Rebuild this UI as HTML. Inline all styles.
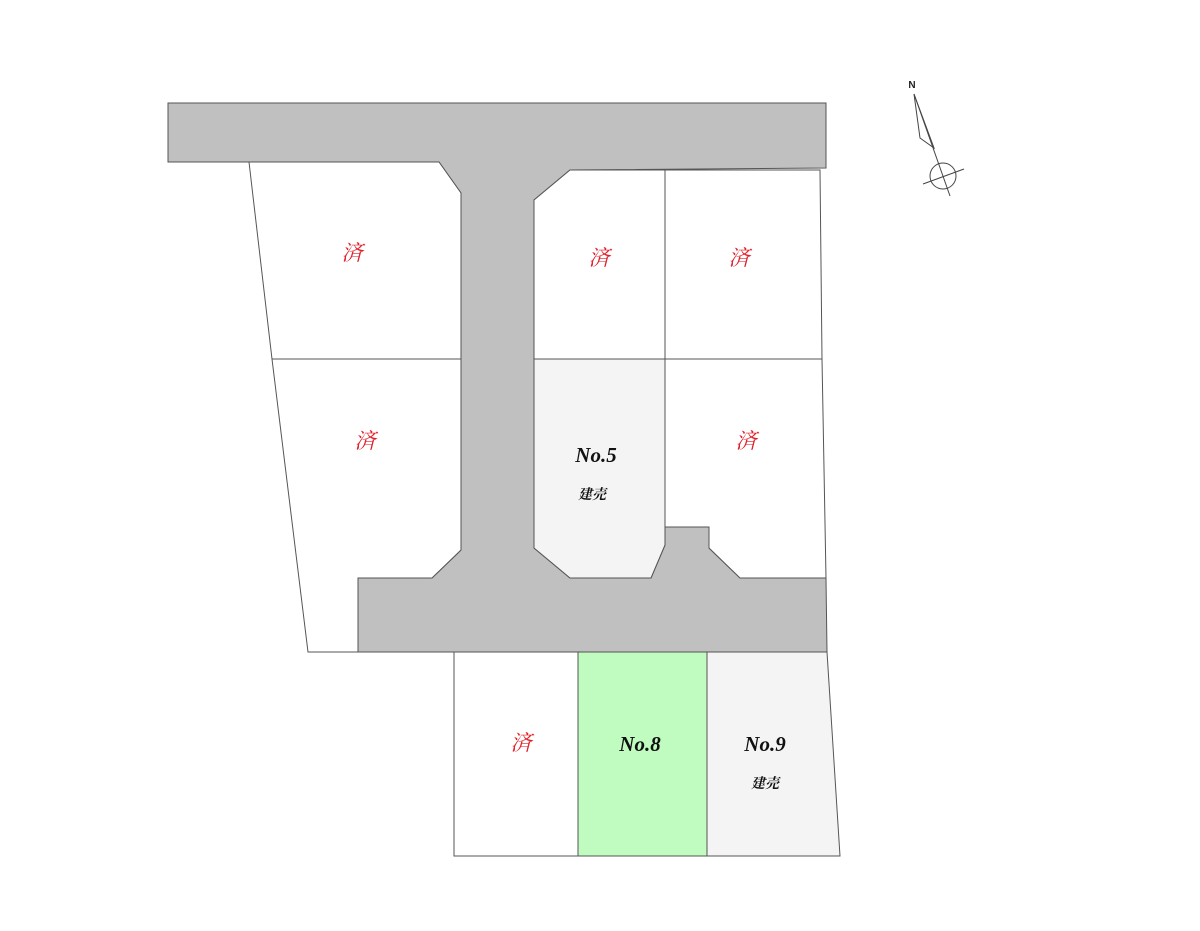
<!DOCTYPE html>
<html><head><meta charset="utf-8"><style>
html,body{margin:0;padding:0;background:#fff;}
svg{display:block;}
.s{font-family:"Liberation Serif","Noto Serif CJK SC",serif;font-style:italic;fill:#e0202a;font-size:21px;}
.n{font-family:"Liberation Serif",serif;font-style:italic;font-weight:bold;fill:#111;font-size:21px;}
.k{font-family:"Liberation Serif","Noto Serif CJK SC",serif;font-style:italic;fill:#111;font-size:14px;font-weight:bold;}
</style></head><body>
<svg width="1200" height="931" viewBox="0 0 1200 931">
<g stroke="#555" stroke-width="1">
<polygon fill="#c0c0c0" points="168,103 826,103 826,168 570,170 534,200 534,548 570,578 651,578 665,545 665,527 709,527 709,548 740,578 826,578 827,652 358,652 358,578 432,578 461,550 461,193 439,162 168,162"/>
<polygon fill="#fff" points="249,162 439,162 461,193 461,359 272,359"/>
<polygon fill="#fff" points="272,359 461,359 461,550 432,578 358,578 358,652 308,652"/>
<polygon fill="#fff" points="534,200 570,170 665,170 665,359 534,359"/>
<polygon fill="#fff" points="665,170 820,170 822,359 665,359"/>
<polygon fill="#f4f4f4" points="534,359 665,359 665,545 651,578 570,578 534,548"/>
<polygon fill="#fff" points="665,359 822,359 826,578 740,578 709,548 709,527 665,527"/>
<polygon fill="#fff" points="454,652 578,652 578,856 454,856"/>
<polygon fill="#c0fcc0" points="578,652 707,652 707,856 578,856"/>
<polygon fill="#f4f4f4" points="707,652 827,652 840,856 707,856"/>
</g>
<text class="s" x="352" y="260" text-anchor="middle">済</text>
<text class="s" x="599" y="265" text-anchor="middle">済</text>
<text class="s" x="739" y="265" text-anchor="middle">済</text>
<text class="s" x="365" y="448" text-anchor="middle">済</text>
<text class="s" x="746" y="448" text-anchor="middle">済</text>
<text class="s" x="521" y="750" text-anchor="middle">済</text>
<text class="n" x="596" y="462" text-anchor="middle">No.5</text>
<text class="k" x="592" y="499" text-anchor="middle">建売</text>
<text class="n" x="640" y="751" text-anchor="middle">No.8</text>
<text class="n" x="765" y="751" text-anchor="middle">No.9</text>
<text class="k" x="765" y="788" text-anchor="middle">建売</text>
<g stroke="#444" stroke-width="1" fill="none">
<polyline points="914,94 920,138 934,148 914,94"/>
<line x1="914" y1="94" x2="950" y2="196"/>
<circle cx="943" cy="176" r="13"/>
<line x1="923" y1="184" x2="964" y2="169"/>
</g>
<text x="912" y="88" font-family="Liberation Sans,sans-serif" font-size="10" font-weight="bold" text-anchor="middle" fill="#222">N</text>
</svg>
</body></html>
